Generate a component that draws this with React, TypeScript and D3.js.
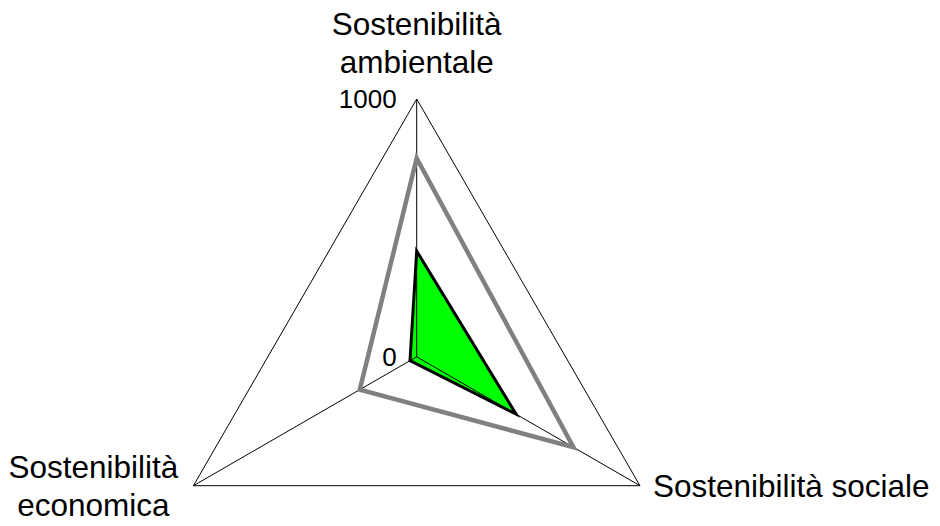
import React from "react";
import * as d3 from "d3";

const axes = ["ambientale", "sociale", "economica"];
const axisLabels = [
  ["Sostenibilità", "ambientale"],
  ["Sostenibilità sociale"],
  ["Sostenibilità", "economica"]
];
const grayValues = [770, 702, 255];
const greenValues = [410, 445, 30];
const tickValues = [0, 1000];

function App() {
  const w = 940,
    h = 526,
    cx = 416.7,
    cy = 356.8,
    radius = 257.8;

  const r = d3.scaleLinear().domain([0, 1000]).range([0, radius]);
  const angle = d3
    .scaleOrdinal<string, number>()
    .domain(axes)
    .range([-Math.PI / 2, Math.PI / 6, (5 * Math.PI) / 6]);

  const point = (axis: string, v: number): [number, number] => [
    cx + r(v) * Math.cos(angle(axis)),
    cy + r(v) * Math.sin(angle(axis))
  ];

  const line = d3.line().curve(d3.curveLinearClosed);

  const grid = line(axes.map(a => point(a, 1000)));
  const gray = line(axes.map((a, i) => point(a, grayValues[i])));
  const green = line(axes.map((a, i) => point(a, greenValues[i])));

  const font = "'Liberation Sans', Arial, sans-serif";

  const axisLines = axes.map((a, i) => {
    const [x, y] = point(a, 1000);
    return <line key={i} x1={cx} y1={cy} x2={x} y2={y} stroke="#000" strokeWidth={1} />;
  });

  const ticks = tickValues.map((t, i) => {
    const [x, y] = point(axes[0], t);
    return (
      <text key={i} x={x - 20} y={y} dy="0.35em" textAnchor="end" fontSize={26}>
        {t}
      </text>
    );
  });

  const [tx, ty] = point(axes[0], 1000);
  const [rx, ry] = point(axes[1], 1000);
  const [lx, ly] = point(axes[2], 1000);

  return (
    <svg
      width={w}
      height={h}
      style={{ position: "absolute", left: 0, top: 0, background: "#fff" }}
      fontFamily={font}
      fill="#000"
    >
      <path d={grid || ""} fill="none" stroke="#000" strokeWidth={1} />
      <path d={green || ""} fill="#00ff00" stroke="none" />
      {axisLines}
      <path d={green || ""} fill="none" stroke="#000" strokeWidth={3} strokeLinejoin="miter" />
      <path d={gray || ""} fill="none" stroke="#808080" strokeWidth={4.5} />
      {ticks}
      <text x={tx} y={35} textAnchor="middle" fontSize={31.5}>
        {axisLabels[0].map((s, i) => (
          <tspan key={i} x={tx} dy={i === 0 ? 0 : 38}>{s}</tspan>
        ))}
      </text>
      <text x={rx + 13} y={ry} dy="0.35em" textAnchor="start" fontSize={31.5}>
        {axisLabels[1][0]}
      </text>
      <text x={lx - 100} y={ly - 8} textAnchor="middle" fontSize={31.5}>
        {axisLabels[2].map((s, i) => (
          <tspan key={i} x={lx - 100} dy={i === 0 ? 0 : 38}>{s}</tspan>
        ))}
      </text>
    </svg>
  );
}

export default App;
